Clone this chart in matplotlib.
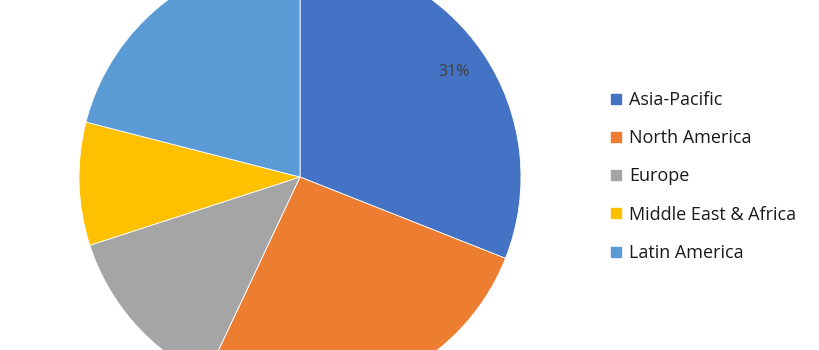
import matplotlib
matplotlib.use("Agg")
import matplotlib.pyplot as plt
from matplotlib.lines import Line2D
import numpy as np

regions = ["Asia-Pacific", "North America", "Europe", "Middle East & Africa", "Latin America"]
shares = [31, 26, 13, 9, 21]
colors = ["#4472C4", "#ED7D31", "#A5A5A5", "#FFC000", "#5B9BD5"]
shown_labels = ["31%", "", "", "", ""]

plt.rcParams['font.family'] = ['Open Sans', 'DejaVu Sans']

fig = plt.figure(figsize=(8.2, 3.5), dpi=100)
ax = fig.add_axes([0, 0, 1, 1])

cx, cy, r = 300, 173, 221
wedges, _ = ax.pie(shares, colors=colors, startangle=90, counterclock=False,
                   center=(cx, cy), radius=r,
                   wedgeprops=dict(edgecolor='white', linewidth=0.6))
ax.set_xlim(0, 820)
ax.set_ylim(0, 350)
ax.set_aspect('equal')
ax.axis('off')

for w, lab in zip(wedges, shown_labels):
    if lab:
        ang = np.deg2rad((w.theta1 + w.theta2) / 2)
        ax.text(cx + 0.845 * r * np.cos(ang), cy + 0.845 * r * np.sin(ang), lab,
                ha='center', va='center', fontsize=11.5, color='#404040')

handles = [Line2D([], [], marker='s', linestyle='none', markersize=6.5,
                  markerfacecolor=c, markeredgecolor=c) for c in colors]
leg = ax.legend(handles, regions, loc='upper left', bbox_to_anchor=(602/820, 1 - 82/350),
                frameon=False, fontsize=13, handlelength=0.6, handletextpad=0.4,
                labelspacing=1.12, borderpad=0)
for t in leg.get_texts():
    t.set_color('#1a1a1a')

fig.savefig("out.png", dpi=100)
